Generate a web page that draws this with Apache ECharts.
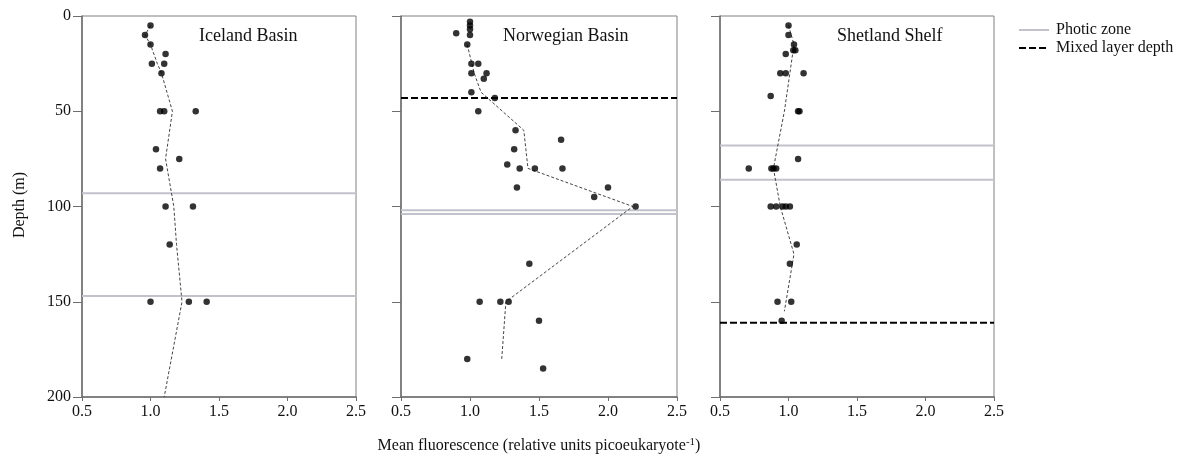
<!DOCTYPE html>
<html><head><meta charset="utf-8">
<script src="https://cdn.jsdelivr.net/npm/echarts@6/dist/echarts.min.js"></script>
<style>html,body{margin:0;padding:0;background:#fff}#c{width:1183px;height:461px}</style>
</head><body><div id="c"></div>
<script>
// ---- Data ----
const panelTitles = ['Iceland Basin', 'Norwegian Basin', 'Shetland Shelf'];
const xTicks = [0.5, 1.0, 1.5, 2.0, 2.5];
const yTicks = [0, 50, 100, 150, 200];

// Iceland Basin
const icelandFluor = [1.00, 0.96, 1.00, 1.11, 1.01, 1.10, 1.08, 1.07, 1.10, 1.33, 1.04, 1.21, 1.07, 1.11, 1.31, 1.14, 1.00, 1.28, 1.41];
const icelandDepth = [5, 10, 15, 20, 25, 25, 30, 50, 50, 50, 70, 75, 80, 100, 100, 120, 150, 150, 150];
const icelandMeanFluor = [1.00, 0.96, 1.00, 1.05, 1.08, 1.16, 1.11, 1.17, 1.19, 1.23, 1.10];
const icelandMeanDepth = [5, 10, 15, 25, 30, 50, 75, 100, 120, 150, 200];
const icelandPhotic = [93, 147];
const icelandMixed = [];

// Norwegian Basin
const norwFluor = [1.00, 1.00, 1.00, 0.90, 1.00, 0.98, 1.01, 1.06, 1.01, 1.12, 1.10, 1.01, 1.18, 1.06, 1.33, 1.66, 1.32, 1.27, 1.36, 1.47, 1.67, 1.34, 2.00, 1.90, 2.20, 1.43, 1.07, 1.22, 1.28, 1.50, 0.98, 1.53];
const norwDepth = [3, 5, 7, 9, 10, 15, 25, 25, 30, 30, 33, 40, 43, 50, 60, 65, 70, 78, 80, 80, 80, 90, 90, 95, 100, 130, 150, 150, 150, 160, 180, 185];
const norwMeanFluor = [0.98, 1.03, 1.08, 1.39, 1.42, 2.18, 1.26, 1.23];
const norwMeanDepth = [15, 30, 40, 60, 80, 100, 150, 180];
const norwPhotic = [102, 104];
const norwMixed = [43];

// Shetland Shelf
const shetFluor = [1.00, 1.00, 1.04, 1.035, 1.05, 0.98, 0.94, 0.98, 1.11, 0.87, 1.07, 1.08, 1.07, 0.71, 0.875, 0.89, 0.91, 0.87, 0.91, 0.955, 0.98, 1.01, 1.06, 1.01, 0.92, 1.02, 0.95];
const shetDepth = [5, 10, 15, 18, 18, 20, 30, 30, 30, 42, 50, 50, 75, 80, 80, 80, 80, 100, 100, 100, 100, 100, 120, 130, 150, 150, 160];
const shetMeanFluor = [1.00, 1.04, 1.01, 0.97, 0.89, 0.94, 1.04, 0.97];
const shetMeanDepth = [5, 15, 30, 50, 80, 100, 125, 155];
const shetPhotic = [68, 86];
const shetMixed = [161];

const panels = [
  {fx: icelandFluor, d: icelandDepth, mf: icelandMeanFluor, md: icelandMeanDepth, photic: icelandPhotic, mixed: icelandMixed},
  {fx: norwFluor, d: norwDepth, mf: norwMeanFluor, md: norwMeanDepth, photic: norwPhotic, mixed: norwMixed},
  {fx: shetFluor, d: shetDepth, mf: shetMeanFluor, md: shetMeanDepth, photic: shetPhotic, mixed: shetMixed}
];

// ---- Layout ----
const FONT = 'Liberation Serif';
const gridLefts = [82, 401, 720];
const gridWidths = [274, 276, 274];
const GT = 16, GH = 381;
const XMIN = xTicks[0], XMAX = xTicks[xTicks.length - 1];
const PHOTIC_COLOR = '#c2c2cc';

const chart = echarts.init(document.getElementById('c'), null, {renderer: 'canvas'});

const grids = [], xAxes = [], yAxes = [], series = [], graphics = [];
panels.forEach((p, i) => {
  grids.push({left: gridLefts[i], top: GT, width: gridWidths[i], height: GH, show: true, borderColor: '#808080', borderWidth: 1, containLabel: false});
  xAxes.push({
    type: 'value', gridIndex: i, min: XMIN, max: XMAX, interval: 0.5, position: 'bottom',
    axisLine: {show: true, onZero: false, lineStyle: {color: '#6e6e6e', width: 1.5}},
    axisTick: {show: true, length: 4, lineStyle: {color: '#6e6e6e'}},
    axisLabel: {show: true, fontFamily: FONT, fontSize: 16, color: '#111', margin: 7, formatter: v => v.toFixed(1)},
    splitLine: {show: false}
  });
  yAxes.push({
    type: 'value', gridIndex: i, min: yTicks[0], max: yTicks[yTicks.length - 1], interval: 50, inverse: true,
    axisLine: {show: true, onZero: false, lineStyle: {color: '#6e6e6e', width: 1.5}},
    axisTick: {show: true, length: 9, lineStyle: {color: '#6e6e6e'}},
    axisLabel: {show: i === 0, fontFamily: FONT, fontSize: 16, color: '#111', margin: 11},
    splitLine: {show: false}
  });
  p.photic.forEach(dep => {
    series.push({
      name: 'Photic zone', type: 'line', xAxisIndex: i, yAxisIndex: i, symbol: 'none', silent: true,
      itemStyle: {color: PHOTIC_COLOR},
      lineStyle: {color: PHOTIC_COLOR, width: 2}, z: 1,
      data: [[XMIN, dep], [XMAX, dep]]
    });
  });
  p.mixed.forEach(dep => {
    series.push({
      name: 'Mixed layer depth', type: 'line', xAxisIndex: i, yAxisIndex: i, symbol: 'none', silent: true,
      itemStyle: {color: '#000'},
      lineStyle: {color: '#000', width: 2, type: [7, 3]}, z: 2,
      data: [[XMIN, dep], [XMAX, dep]]
    });
  });
  series.push({
    type: 'line', xAxisIndex: i, yAxisIndex: i, symbol: 'none', silent: true,
    itemStyle: {color: '#444'},
    lineStyle: {color: '#444', width: 1, type: [3, 2]}, z: 3,
    data: p.mf.map((v, k) => [v, p.md[k]])
  });
  series.push({
    type: 'scatter', xAxisIndex: i, yAxisIndex: i, symbol: 'circle', symbolSize: 6.5, silent: true,
    itemStyle: {color: '#000'}, z: 4,
    data: p.fx.map((v, k) => [v, p.d[k]])
  });
  graphics.push({type: 'text', left: [199, 503, 837][i], top: 27,
    style: {text: panelTitles[i], font: '18px ' + FONT, fill: '#111'}});
});

graphics.push({type: 'text', x: 20, y: 205, rotation: Math.PI / 2,
  style: {text: 'Depth (m)', font: '16px ' + FONT, fill: '#111', align: 'center', verticalAlign: 'middle'}});
graphics.push({type: 'text', x: 539, y: 446,
  style: {text: 'Mean fluorescence (relative units picoeukaryote{sup|-1})', font: '16px ' + FONT, fill: '#111',
    align: 'center', verticalAlign: 'middle',
    rich: {sup: {fontSize: 11, fontFamily: FONT, padding: [0, 0, 7, 0], fill: '#111'}}}});

chart.setOption({
  animation: false,
  backgroundColor: '#fff',
  grid: grids, xAxis: xAxes, yAxis: yAxes, series: series,
  legend: {
    show: true, orient: 'vertical', left: 1013, top: 17, itemWidth: 30, itemHeight: 10, itemGap: 2,
    data: ['Photic zone', 'Mixed layer depth'],
    itemStyle: {opacity: 0},
    textStyle: {fontFamily: FONT, fontSize: 16, color: '#111', padding: [0, 0, 0, 2]},
    selectedMode: false
  },
  graphic: graphics
});
</script></body></html>
